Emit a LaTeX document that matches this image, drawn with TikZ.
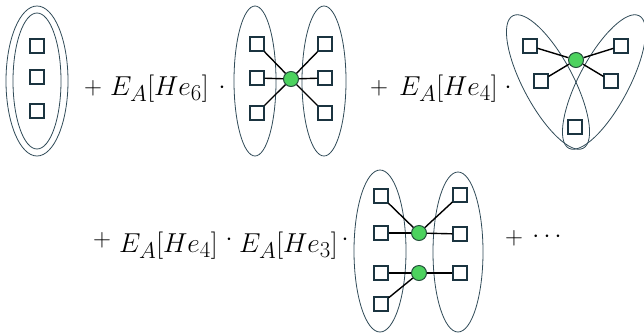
\documentclass[tikz,border=0pt]{standalone}
\usepackage{graphicx}
\usetikzlibrary{shapes.geometric}
\definecolor{setc}{HTML}{2F4A57}
\definecolor{sqc}{HTML}{1B3440}
\definecolor{vfill}{HTML}{4CD25E}
\definecolor{vdraw}{HTML}{24503C}
\newcommand{\bigeq}[1]{\scalebox{1.1}{$#1$}}
\begin{document}
\begin{tikzpicture}[x=1pt,y=-1pt,
  sq/.style={draw=sqc,fill=white,line width=1.6pt,minimum size=13.5pt,inner sep=0pt,shape=rectangle},
  vx/.style={circle,draw=vdraw,fill=vfill,line width=1pt,minimum size=15pt,inner sep=0pt},
  setline/.style={draw=setc,line width=0.8pt},
  lnk/.style={draw=black,line width=1.4pt},
  eq/.style={anchor=base west,inner sep=0pt,font=\fontsize{24.88}{30}\selectfont},
  op/.style={anchor=center,inner sep=0pt,font=\fontsize{24.88}{30}\selectfont}]
\useasboundingbox (0,0) rectangle (644,333);

% ---- element 1
\draw[setline] (37,81) ellipse [x radius=31pt,y radius=75pt];
\draw[setline] (37,81) ellipse [x radius=24pt,y radius=68pt];
\node[sq] (a1) at (37,46) {};
\node[sq] (a2) at (37,77) {};
\node[sq] (a3) at (37,111) {};

\node[op] (p1) at (93,88) {$+$};
\node[eq] (t1) at (110,95) {\bigeq{E_A[He_6]}};
\node[op] (m1) at (222,88) {$\cdot$};

% ---- element 2
\draw[setline] (255,81) ellipse [x radius=21pt,y radius=75pt];
\draw[setline] (324,81) ellipse [x radius=22pt,y radius=75pt];
\node[sq] (b1) at (257,44) {};
\node[sq] (b2) at (257,78) {};
\node[sq] (b3) at (257,113) {};
\node[sq] (b4) at (325,44) {};
\node[sq] (b5) at (325,78) {};
\node[sq] (b6) at (325,113) {};
\node[vx] (bc) at (291,79) {};
\foreach \n in {b1,b2,b3,b4,b5,b6} \draw[lnk] (bc) -- (\n);

\node[op] (p2) at (379,88) {$+$};
\node[eq] (t2) at (399,95) {\bigeq{E_A[He_4]}};
\node[op] (m2) at (508,88) {$\cdot$};

% ---- element 3
\draw[setline,rotate around={-62:(548,82)}] (548,82) ellipse [x radius=75pt,y radius=25pt];
\draw[setline,rotate around={62:(604,82)}] (604,82) ellipse [x radius=75pt,y radius=25pt];
\node[sq] (c1) at (530,46) {};
\node[sq] (c2) at (541,81) {};
\node[sq] (c3) at (621,46) {};
\node[sq] (c4) at (611,81) {};
\node[sq] (c5) at (575,127) {};
\node[vx] (cc) at (576,60) {};
\foreach \n in {c1,c2,c3,c4} \draw[lnk] (cc) -- (\n);

% ---- row 2
\node[op] (p3) at (102,240) {$+$};
\node[eq] (t3) at (119,252) {\bigeq{E_A[He_4]}};
\node[op] (m3) at (229,240) {$\cdot$};
\node[eq] (t4) at (239,252) {\bigeq{E_A[He_3]}};
\node[op] (m4) at (345,240) {$\cdot$};

% ---- element 4
\draw[setline] (380,251) ellipse [x radius=26pt,y radius=81pt];
\draw[setline] (458,252) ellipse [x radius=25pt,y radius=80pt];
\node[sq] (d1) at (381,196) {};
\node[sq] (d2) at (381,233) {};
\node[sq] (d3) at (381,273) {};
\node[sq] (d4) at (381,304) {};
\node[sq] (d5) at (460,195) {};
\node[sq] (d6) at (460,234) {};
\node[sq] (d7) at (460,273) {};
\node[vx] (dc1) at (419,233) {};
\node[vx] (dc2) at (419,273) {};
\foreach \n in {d1,d2,d5,d6} \draw[lnk] (dc1) -- (\n);
\foreach \n in {d3,d4,d7} \draw[lnk] (dc2) -- (\n);

\node[op] (p4) at (514,238) {$+$};
\node[op] (dd) at (547,237) {$\cdots$};
\end{tikzpicture}
\end{document}
